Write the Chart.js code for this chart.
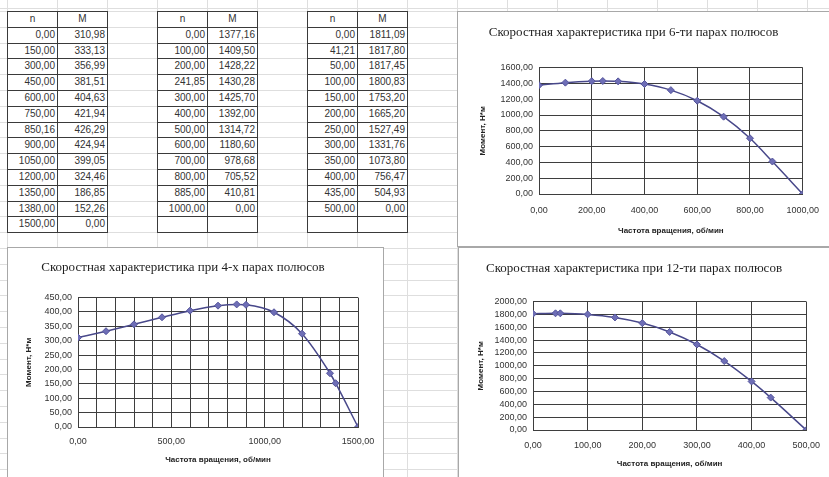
<!DOCTYPE html>
<html>
<head>
<meta charset="utf-8">
<script src="https://cdn.jsdelivr.net/npm/chart.js@4.4.1/dist/chart.umd.min.js"></script>
<style>
  html, body { margin: 0; padding: 0; }
  body {
    width: 829px; height: 477px; overflow: hidden; position: relative;
    background-color: #fff;
    background-image:
      repeating-linear-gradient(to right, #dedede 0 1px, transparent 1px 50px),
      repeating-linear-gradient(to bottom, #dedede 0 1px, transparent 1px 15.8px);
    background-position: 7px 11px;
    font-family: "Liberation Sans", Arial, sans-serif;
  }
  .cell {
    position: absolute; box-sizing: border-box; width: 51px; height: 16.8px;
    border: 1px solid #3a3a3a; background: #fff;
    font-size: 10px; color: #333; line-height: 14.8px;
    text-align: right; padding-right: 2px;
  }
  .cell.head { text-align: center; padding-right: 0; }
  .box {
    position: absolute; background: #fff; border: 1px solid #a8a8a8; box-sizing: border-box;
  }
  .box canvas { position: absolute; left: 0; top: 0; }
</style>
</head>
<body>

<div class="box" style="left:457px;top:11px;width:374px;height:236px;"><canvas id="chart6" width="372" height="234"></canvas></div>
<div class="box" style="left:7px;top:247px;width:377px;height:232px;"><canvas id="chart4" width="376" height="230"></canvas></div>
<div class="box" style="left:458px;top:247px;width:373px;height:232px;"><canvas id="chart12" width="371" height="230"></canvas></div>

<script>
// =======================
// DATA
// =======================
const n4 = [0, 150, 300, 450, 600, 750, 850.16, 900, 1050, 1200, 1350, 1380, 1500];
const m4 = [310.98, 333.13, 356.99, 381.51, 404.63, 421.94, 426.29, 424.94, 399.05, 324.46, 186.85, 152.26, 0];

const n6 = [0, 100, 200, 241.85, 300, 400, 500, 600, 700, 800, 885, 1000];
const m6 = [1377.16, 1409.50, 1428.22, 1430.28, 1425.70, 1392.00, 1314.72, 1180.60, 978.68, 705.52, 410.81, 0];

const n12 = [0, 41.21, 50, 100, 150, 200, 250, 300, 350, 400, 435, 500];
const m12 = [1811.09, 1817.80, 1817.45, 1800.83, 1753.20, 1665.20, 1527.49, 1331.76, 1073.80, 756.47, 504.93, 0];

const colHeaders = ["n", "M"];
const title4 = "Скоростная характеристика при 4-х парах полюсов";
const title6 = "Скоростная характеристика при 6-ти парах полюсов";
const title12 = "Скоростная характеристика при 12-ти парах полюсов";
const xTitle = "Частота вращения, об/мин";
const yTitle = "Момент, Н*м";

function fmt(v) {
  return v.toFixed(2).replace(".", ",");
}

// =======================
// TABLES (sheet cells)
// =======================
function addCell(x, y, text, head) {
  const d = document.createElement("div");
  d.className = head ? "cell head" : "cell";
  d.style.left = x + "px";
  d.style.top = y + "px";
  d.textContent = text;
  document.body.appendChild(d);
}

function drawTable(x, ns, ms, extraRow) {
  const top = 11, rowH = 15.8;
  addCell(x, top, colHeaders[0], true);
  addCell(x + 50, top, colHeaders[1], true);
  for (let i = 0; i < ns.length; i++) {
    addCell(x, top + rowH * (i + 1), fmt(ns[i]));
    addCell(x + 50, top + rowH * (i + 1), fmt(ms[i]));
  }
  if (extraRow) {
    addCell(x, top + rowH * (ns.length + 1), "");
    addCell(x + 50, top + rowH * (ns.length + 1), "");
  }
}

drawTable(7, n4, m4, false);
drawTable(157, n6, m6, true);
drawTable(307, n12, m12, true);

// =======================
// CHARTS
// =======================
function makeChart(id, ns, ms, o) {
  const pts = ns.map((n, i) => ({ x: n, y: ms[i] }));
  return new Chart(document.getElementById(id), {
    type: "scatter",
    data: {
      datasets: [{
        data: pts,
        showLine: true,
        borderColor: "#48488a",
        borderWidth: 1.5,
        cubicInterpolationMode: "monotone",
        pointStyle: "rectRot",
        pointRadius: 3.5,
        pointBackgroundColor: "#6e6eb6",
        pointBorderColor: "#55559c",
        pointBorderWidth: 1
      }]
    },
    options: {
      responsive: false,
      animation: false,
      layout: { padding: { left: 0, right: o.padRight, top: 0, bottom: 0 } },
      plugins: {
        legend: { display: false },
        tooltip: { enabled: false },
        title: {
          display: true,
          text: o.title,
          color: "#1e1e1e",
          font: { family: "'Liberation Serif', 'DejaVu Serif', serif", size: 13, weight: "normal" },
          padding: { top: o.titleTop, bottom: o.titleBottom }
        }
      },
      scales: {
        x: {
          type: "linear",
          min: 0, max: o.xMax,
          afterFit: s => { s.height = o.xH; },
          grid: { color: "#3e3e3e", drawTicks: false },
          border: { color: "#3e3e3e" },
          ticks: {
            stepSize: o.xStep,
            autoSkip: false,
            maxRotation: 0,
            padding: o.xPad,
            color: "#333",
            font: { family: "'Liberation Sans', Arial", size: 9 },
            callback: v => (v % o.xLabelEvery === 0 ? fmt(v) : "")
          },
          title: {
            display: true, text: xTitle, color: "#222",
            font: { family: "'Liberation Sans', Arial", size: 8, weight: "bold" },
            padding: { top: 0, bottom: o.xTitlePad }
          }
        },
        y: {
          min: 0, max: o.yMax,
          afterFit: s => { s.width = o.yW; },
          grid: { color: "#3e3e3e", drawTicks: false },
          border: { color: "#3e3e3e" },
          ticks: {
            stepSize: o.yStep,
            autoSkip: false,
            padding: 6,
            color: "#333",
            font: { family: "'Liberation Sans', Arial", size: 9 },
            callback: v => fmt(v)
          },
          title: {
            display: true, text: yTitle, color: "#222",
            font: { family: "'Liberation Sans', Arial", size: 8, weight: "bold" },
            padding: { top: o.yTitlePad, bottom: 0 }
          }
        }
      }
    }
  });
}

makeChart("chart6", n6, m6, {
  title: title6, titleTop: 13, titleBottom: 27,
  xMax: 1000, xStep: 200, xLabelEvery: 200, xH: 52, xPad: 11, xTitlePad: 10,
  yMax: 1600, yStep: 200, yW: 81, yTitlePad: 20, padRight: 21
});

makeChart("chart4", n4, m4, {
  title: title4, titleTop: 12, titleBottom: 22,
  xMax: 1500, xStep: 100, xLabelEvery: 500, xH: 51, xPad: 9, xTitlePad: 13,
  yMax: 450, yStep: 50, yW: 70, yTitlePad: 16, padRight: 26
});

makeChart("chart12", n12, m12, {
  title: title12, titleTop: 13, titleBottom: 25,
  xMax: 500, xStep: 100, xLabelEvery: 100, xH: 48, xPad: 10, xTitlePad: 9,
  yMax: 2000, yStep: 200, yW: 74, yTitlePad: 17, padRight: 21
});
</script>
</body>
</html>
